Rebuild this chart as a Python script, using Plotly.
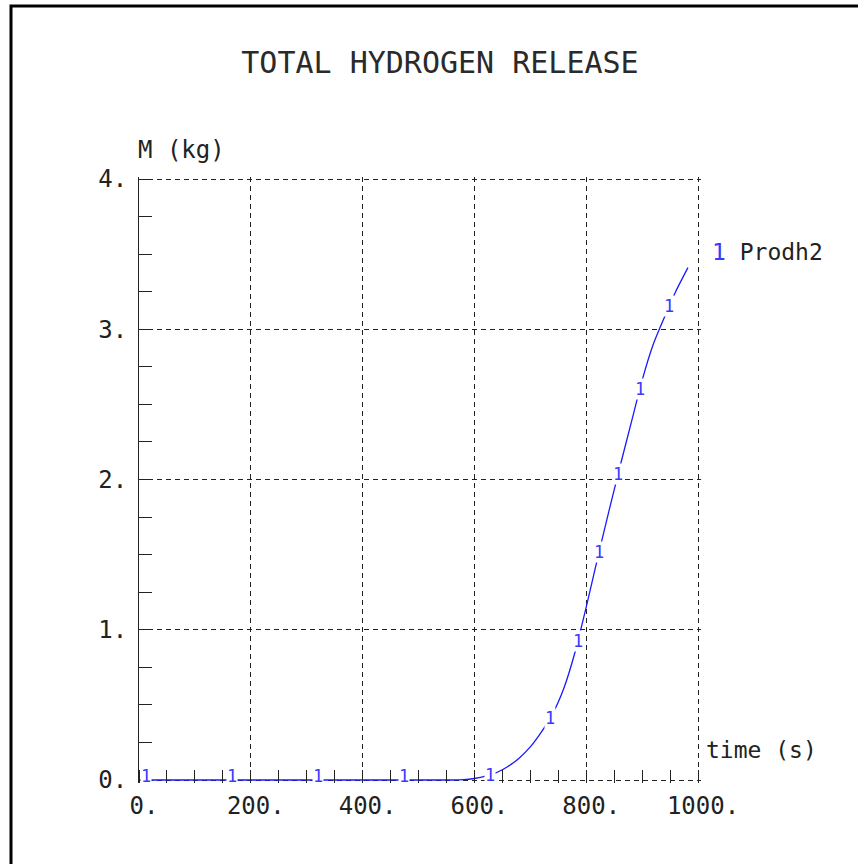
import numpy as np
import plotly.graph_objects as go

# Total hydrogen mass produced versus time
time_s = [0, 500, 560, 580, 600, 620, 640, 660, 680, 700, 720, 740, 760,
          780, 800, 820, 840, 860, 880, 900, 920, 940, 960, 982]
mass_kg = [0.0, 0.0, 0.0, 0.002, 0.01, 0.025, 0.05, 0.09, 0.145, 0.22, 0.32,
           0.44, 0.61, 0.85, 1.15, 1.47, 1.78, 2.08, 2.37, 2.66, 2.90, 3.08,
           3.25, 3.41]

# Curve-identifier markers placed along the line
marker_times = [12, 166, 320, 474, 628, 735, 785, 823, 857, 896, 949]

x_ticks = [0, 200, 400, 600, 800, 1000]
x_labels = ["0.", "200.", "400.", "600.", "800.", "1000."]
y_ticks = [0, 1, 2, 3, 4]
y_labels = ["0.", "1.", "2.", "3.", "4."]

series_name = "Prodh2"
series_id = "1"

BLUE = "#1a1aff"
INK = "#222222"
MONO = "DejaVu Sans Mono"

W, H = 858, 864
# plot frame in pixels; a small pad keeps the outer grid lines from being clipped
PX_L, PX_R, PX_T, PX_B = 139, 698, 179, 780
PAD = 2.5
x_pad = PAD * (x_ticks[-1] - x_ticks[0]) / (PX_R - PX_L)
y_pad = PAD * (y_ticks[-1] - y_ticks[0]) / (PX_B - PX_T)

fig = go.Figure()
fig.add_trace(go.Scatter(x=time_s, y=mass_kg, mode="lines",
                         line=dict(color=BLUE, width=1.3, shape="spline",
                                   smoothing=0.6),
                         showlegend=False, hoverinfo="skip"))

annotations = []
marker_vals = np.interp(marker_times, time_s, mass_kg)
for t, m in zip(marker_times, marker_vals):
    annotations.append(dict(x=t, y=float(m), xref="x", yref="y", text=series_id,
                            showarrow=False, yshift=4 if m < 0.02 else 0,
                            font=dict(family=MONO, size=17, color="#3a3aff"),
                            bgcolor="white", borderpad=0))

# Axis titles and series key
annotations += [
    dict(x=136 / W, y=1 - 150 / H, xref="paper", yref="paper",
         text="M (kg)", showarrow=False, xanchor="left", yanchor="middle",
         font=dict(family=MONO, size=24, color=INK)),
    dict(x=704 / W, y=1 - 750 / H, xref="paper", yref="paper",
         text="time (s)", showarrow=False, xanchor="left", yanchor="middle",
         font=dict(family=MONO, size=23, color=INK)),
    dict(x=710 / W, y=1 - 252 / H, xref="paper", yref="paper",
         text=f"<span style='color:#3a3aff'>{series_id}</span> {series_name}",
         showarrow=False, xanchor="left", yanchor="middle",
         font=dict(family=MONO, size=23, color=INK)),
]

fig.update_layout(
    width=W, height=H,
    margin=dict(l=0, r=0, t=0, b=0, autoexpand=False),
    paper_bgcolor="white", plot_bgcolor="white",
    title=dict(text="TOTAL HYDROGEN RELEASE", x=440 / W, y=1 - 62 / H,
               xanchor="center", yanchor="middle",
               font=dict(family=MONO, size=30, color="#2a2a2a")),
    annotations=annotations,
    shapes=[dict(type="rect", xref="paper", yref="paper",
                 x0=11 / W, x1=1.05, y0=-0.05, y1=1 - 6 / H,
                 line=dict(color="black", width=3))],
    xaxis=dict(domain=[PX_L / W, (PX_R + PAD) / W],
               range=[x_ticks[0], x_ticks[-1] + x_pad],
               automargin=False,
               tickmode="array", tickvals=x_ticks, ticktext=x_labels,
               ticks="", showline=False, zeroline=False,
               showgrid=True, gridcolor=INK, gridwidth=1, griddash="5px,4px",
               minor=dict(dtick=50, ticks="inside", ticklen=13,
                          tickcolor=INK, tickwidth=1, showgrid=False),
               tickfont=dict(family=MONO, size=24, color=INK),
               ticklabelshift=5, ticklabelstandoff=6),
    yaxis=dict(domain=[1 - (PX_B + PAD) / H, 1 - (PX_T - PAD) / H],
               range=[y_ticks[0] - y_pad, y_ticks[-1] + y_pad],
               automargin=False,
               tickmode="array", tickvals=y_ticks, ticktext=y_labels,
               ticks="", showline=True, linecolor=INK, linewidth=1,
               zeroline=False,
               showgrid=True, gridcolor=INK, gridwidth=1, griddash="5px,4px",
               minor=dict(dtick=0.25, ticks="inside", ticklen=13,
                          tickcolor=INK, tickwidth=1, showgrid=False),
               tickfont=dict(family=MONO, size=24, color=INK),
               ticklabelstandoff=6),
)

fig.write_html("out.html")
